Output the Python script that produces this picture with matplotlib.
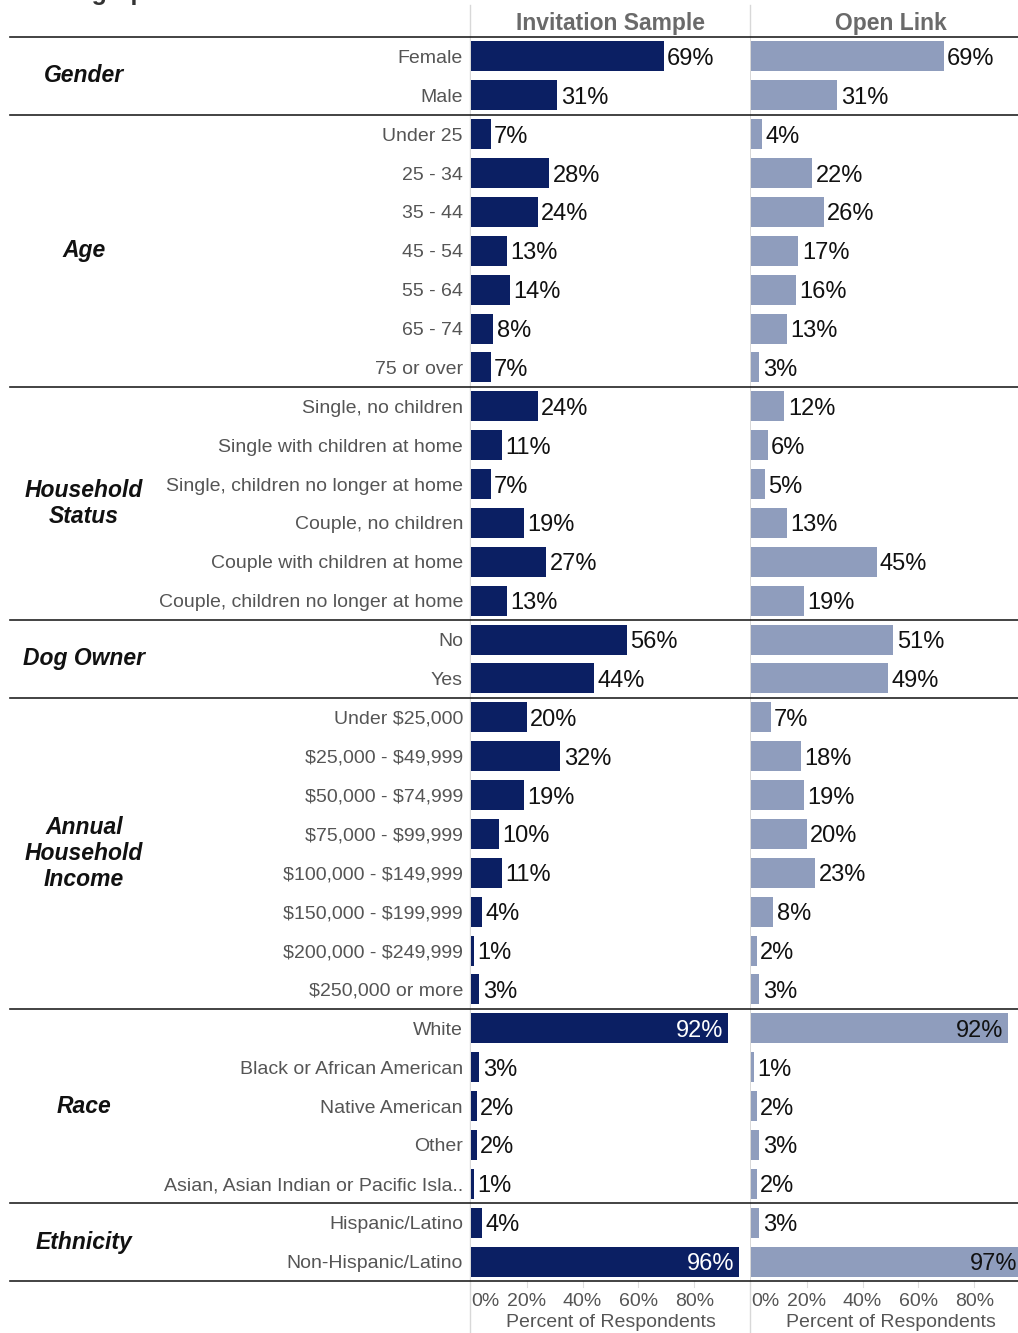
import matplotlib
matplotlib.use("Agg")
import matplotlib.pyplot as plt
from matplotlib.lines import Line2D

plt.rcParams['font.family'] = ['Liberation Sans', 'DejaVu Sans']

groups = ["Gender", "Age", "Household\nStatus", "Dog Owner", "Annual\nHousehold\nIncome", "Race", "Ethnicity"]
group_categories = [
    ["Female", "Male"],
    ["Under 25", "25 - 34", "35 - 44", "45 - 54", "55 - 64", "65 - 74", "75 or over"],
    ["Single, no children", "Single with children at home", "Single, children no longer at home",
     "Couple, no children", "Couple with children at home", "Couple, children no longer at home"],
    ["No", "Yes"],
    ["Under $25,000", "$25,000 - $49,999", "$50,000 - $74,999", "$75,000 - $99,999",
     "$100,000 - $149,999", "$150,000 - $199,999", "$200,000 - $249,999", "$250,000 or more"],
    ["White", "Black or African American", "Native American", "Other", "Asian, Asian Indian or Pacific Isla.."],
    ["Hispanic/Latino", "Non-Hispanic/Latino"],
]
invitation = [
    [69, 31],
    [7, 28, 24, 13, 14, 8, 7],
    [24, 11, 7, 19, 27, 13],
    [56, 44],
    [20, 32, 19, 10, 11, 4, 1, 3],
    [92, 3, 2, 2, 1],
    [4, 96],
]
open_link = [
    [69, 31],
    [4, 22, 26, 17, 16, 13, 3],
    [12, 6, 5, 13, 45, 19],
    [51, 49],
    [7, 18, 19, 20, 23, 8, 2, 3],
    [92, 1, 2, 3, 2],
    [3, 97],
]
panel_titles = ["Invitation Sample", "Open Link"]
tick_vals = [0, 20, 40, 60, 80]
tick_labels = ["0%", "20%", "40%", "60%", "80%"]

W, H = 1018, 1333
fig = plt.figure(figsize=(W / 100, H / 100), dpi=100)

top_px, bot_px = 37, 1281
cats = [c for g in group_categories for c in g]
n = len(cats)
inv_flat = [v for g in invitation for v in g]
open_flat = [v for g in open_link for v in g]

ax_b = 1 - bot_px / H
ax_h = (bot_px - top_px) / H
ax1 = fig.add_axes([471 / W, ax_b, 279 / W, ax_h])
ax2 = fig.add_axes([751 / W, ax_b, 279 / W, ax_h])

colors = ['#0b1f63', '#8f9dbd']
inside_colors = ['white', '#111111']
for ax, vals, col, icol, title in zip([ax1, ax2], [inv_flat, open_flat], colors, inside_colors, panel_titles):
    ys = list(range(n))
    ax.barh(ys, vals, height=0.77, color=col, zorder=2)
    ax.set_xlim(0, 100)
    ax.set_ylim(n - 0.5, -0.5)
    ax.set_yticks([])
    for s in ax.spines.values():
        s.set_visible(False)
    ax.set_xticks(tick_vals)
    ax.set_xticklabels(tick_labels, fontsize=14, color='#555555')
    ax.get_xticklabels()[0].set_horizontalalignment('left')
    ax.tick_params(axis='x', length=0, pad=8.5)
    ax.set_xlabel("Percent of Respondents", fontsize=14, color='#555555', labelpad=3)
    for xv in tick_vals[1:]:
        ax.plot([xv, xv], [n - 0.5, n - 0.5 + 0.15], color='#dddddd', lw=0.8, clip_on=False)
    for y, v in zip(ys, vals):
        if v >= 85:
            ax.text(v - 1.5, y, f"{v}%", ha='right', va='center_baseline', fontsize=17, color=icol, zorder=3)
        else:
            ax.text(v + 1.2, y, f"{v}%", ha='left', va='center_baseline', fontsize=17, color='#111111', zorder=3)
    ax.text(50, -0.5 - 0.4, title, ha='center', va='center_baseline', fontsize=16.5,
            fontweight='bold', color='#6a6a6a', transform=ax.transData, clip_on=False)

# category labels
row_h = (bot_px - top_px) / n
def ypx(i):
    return top_px + (i + 0.5) * row_h

for i, c in enumerate(cats):
    fig.text(463 / W, 1 - ypx(i) / H, c, ha='right', va='center_baseline', fontsize=14,
             color='#555555', parse_math=False)

# group labels and separators
idx = 0
fig.add_artist(Line2D([10 / W, 1], [1 - top_px / H] * 2, color='#222222', lw=1.2))
for g, gc in zip(groups, group_categories):
    k = len(gc)
    yc = (ypx(idx) + ypx(idx + k - 1)) / 2
    fig.text(84 / W, 1 - yc / H, g, ha='center', va='center', fontsize=16.5,
             fontweight='bold', fontstyle='italic', color='#111111', linespacing=1.15)
    idx += k
    ysep = top_px + idx * row_h
    fig.add_artist(Line2D([10 / W, 1], [1 - ysep / H] * 2, color='#222222', lw=1.2))

# vertical panel dividers
for xp in [470, 750]:
    fig.add_artist(Line2D([xp / W, xp / W], [0, 1 - 5 / H], color='#d8d8d8', lw=1.0, zorder=0))

# cut-off title
fig.text(22 / W, 1.0, "Demographics", ha='left', va='baseline', fontsize=18,
         fontweight='bold', color='#333333')

fig.savefig("out.png", dpi=100)
